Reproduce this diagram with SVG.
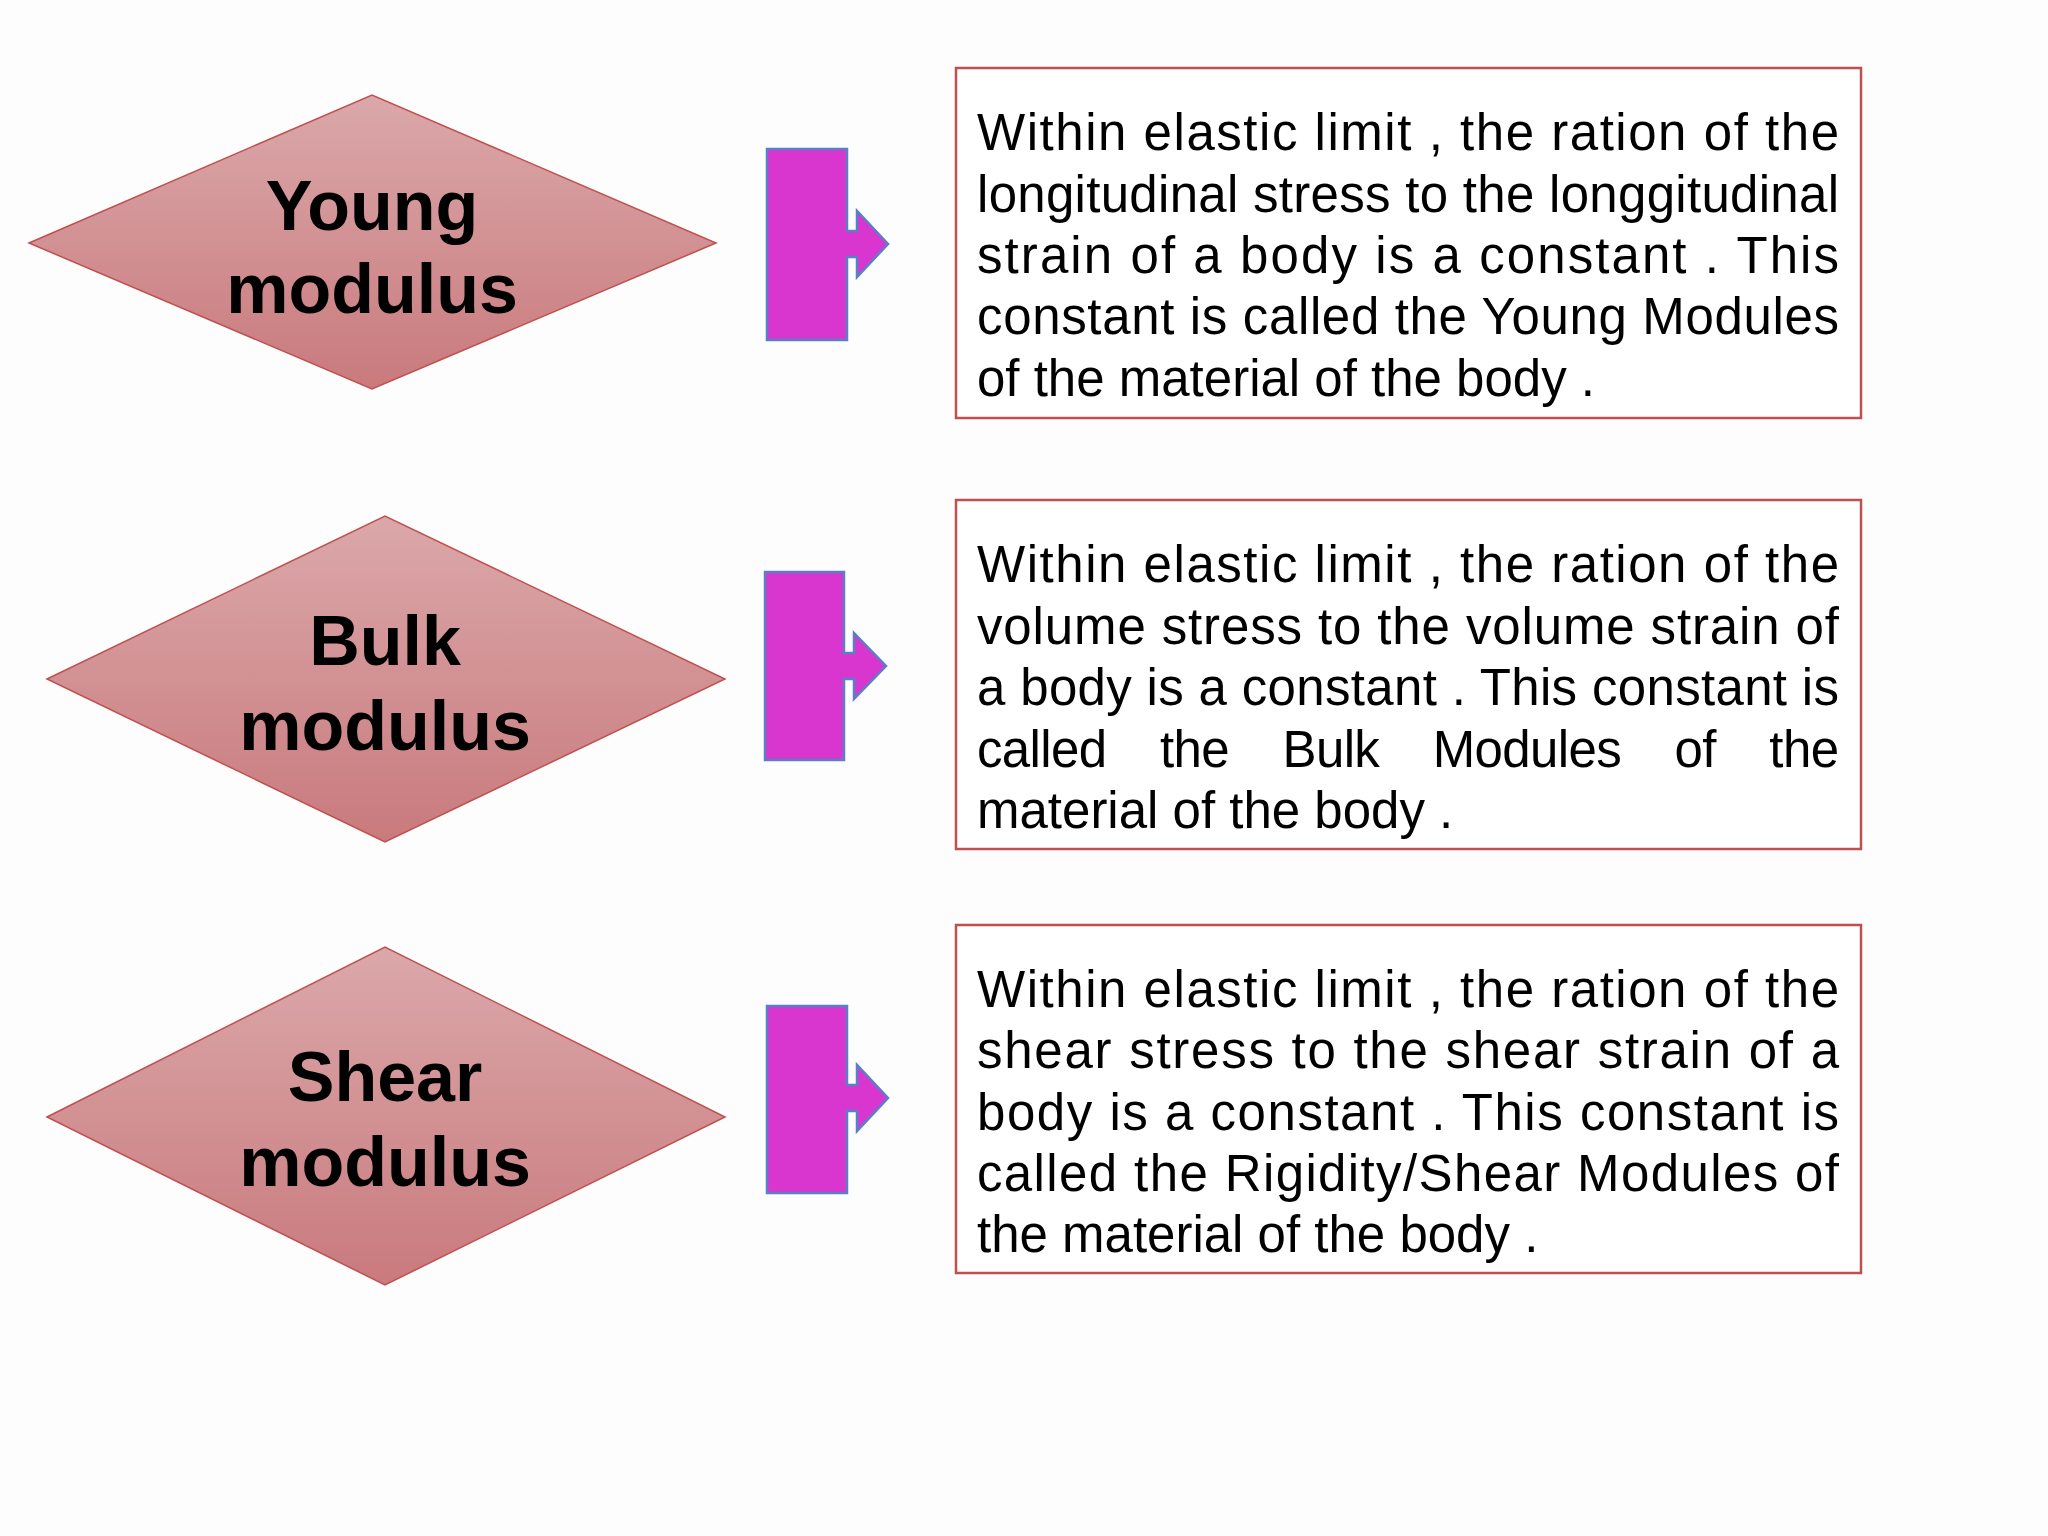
<svg xmlns="http://www.w3.org/2000/svg" width="2048" height="1536" viewBox="0 0 2048 1536">
<defs>
<linearGradient id="g" x1="0" y1="0" x2="0" y2="1"><stop offset="0" stop-color="#dba8aa"/><stop offset="1" stop-color="#c97a7d"/></linearGradient>
<style>
.d{fill:url(#g);stroke:#c0504d;stroke-width:1.5}
.dl{font-family:"Liberation Sans",Arial,sans-serif;font-weight:bold;font-size:70px;text-anchor:middle;fill:#000}
.b{fill:#fff;stroke:#c0504d;stroke-width:2.5}
.t{font-family:"Liberation Sans",Arial,sans-serif;font-size:51px;fill:#000}
.a{fill:#d936d0;stroke:#5b7fc6;stroke-width:2.5}
</style>
</defs>
<rect width="2048" height="1536" fill="#fdfdfd"/>
<g id="young"><polygon class="d" points="29,243 372,95 716,243 372,389"/><text class="dl" x="372" y="230">Young</text><text class="dl" x="372" y="313">modulus</text></g>
<g id="bulk"><polygon class="d" points="47,679 385,516 725,679 385,842"/><text class="dl" x="385" y="665">Bulk</text><text class="dl" x="385" y="750">modulus</text></g>
<g id="shear"><polygon class="d" points="47,1117 385,947 725,1117 385,1285"/><text class="dl" x="385" y="1101">Shear</text><text class="dl" x="385" y="1186">modulus</text></g>
<g id="connectors">
<polygon class="a" points="767,149 847,149 847,231 857,231 857,211 888,244 857,277 857,257 847,257 847,340 767,340"/>
<polygon class="a" points="765,572 844,572 844,653 854,653 854,633 886,666 854,699 854,679 844,679 844,760 765,760"/>
<polygon class="a" points="767,1006 847,1006 847,1085 857,1085 857,1065 888,1098 857,1131 857,1111 847,1111 847,1193 767,1193"/>
</g>
<g id="box1"><rect class="b" x="956" y="68" width="905" height="350"/>
<text class="t"><tspan x="977" y="150" textLength="862" lengthAdjust="spacing">Within elastic limit , the ration of the</tspan><tspan x="977" y="212" textLength="862" lengthAdjust="spacing">longitudinal stress to the longgitudinal</tspan><tspan x="977" y="273" textLength="862" lengthAdjust="spacing">strain of a body is a constant . This</tspan><tspan x="977" y="334" textLength="862" lengthAdjust="spacing">constant is called the Young Modules</tspan><tspan x="977" y="396">of the material of the body .</tspan></text></g>
<g id="box2"><rect class="b" x="956" y="500" width="905" height="349"/>
<text class="t"><tspan x="977" y="582" textLength="862" lengthAdjust="spacing">Within elastic limit , the ration of the</tspan><tspan x="977" y="644" textLength="862" lengthAdjust="spacing">volume stress to the volume strain of</tspan><tspan x="977" y="705" textLength="862" lengthAdjust="spacing">a body is a constant . This constant is</tspan><tspan x="977" y="767" textLength="862" lengthAdjust="spacing" word-spacing="40">called the Bulk Modules of the</tspan><tspan x="977" y="828">material of the body .</tspan></text></g>
<g id="box3"><rect class="b" x="956" y="925" width="905" height="348"/>
<text class="t"><tspan x="977" y="1007" textLength="862" lengthAdjust="spacing">Within elastic limit , the ration of the</tspan><tspan x="977" y="1068" textLength="862" lengthAdjust="spacing">shear stress to the shear strain of a</tspan><tspan x="977" y="1130" textLength="862" lengthAdjust="spacing">body is a constant . This constant is</tspan><tspan x="977" y="1191" textLength="862" lengthAdjust="spacing">called the Rigidity/Shear Modules of</tspan><tspan x="977" y="1252">the material of the body .</tspan></text></g>
</svg>
